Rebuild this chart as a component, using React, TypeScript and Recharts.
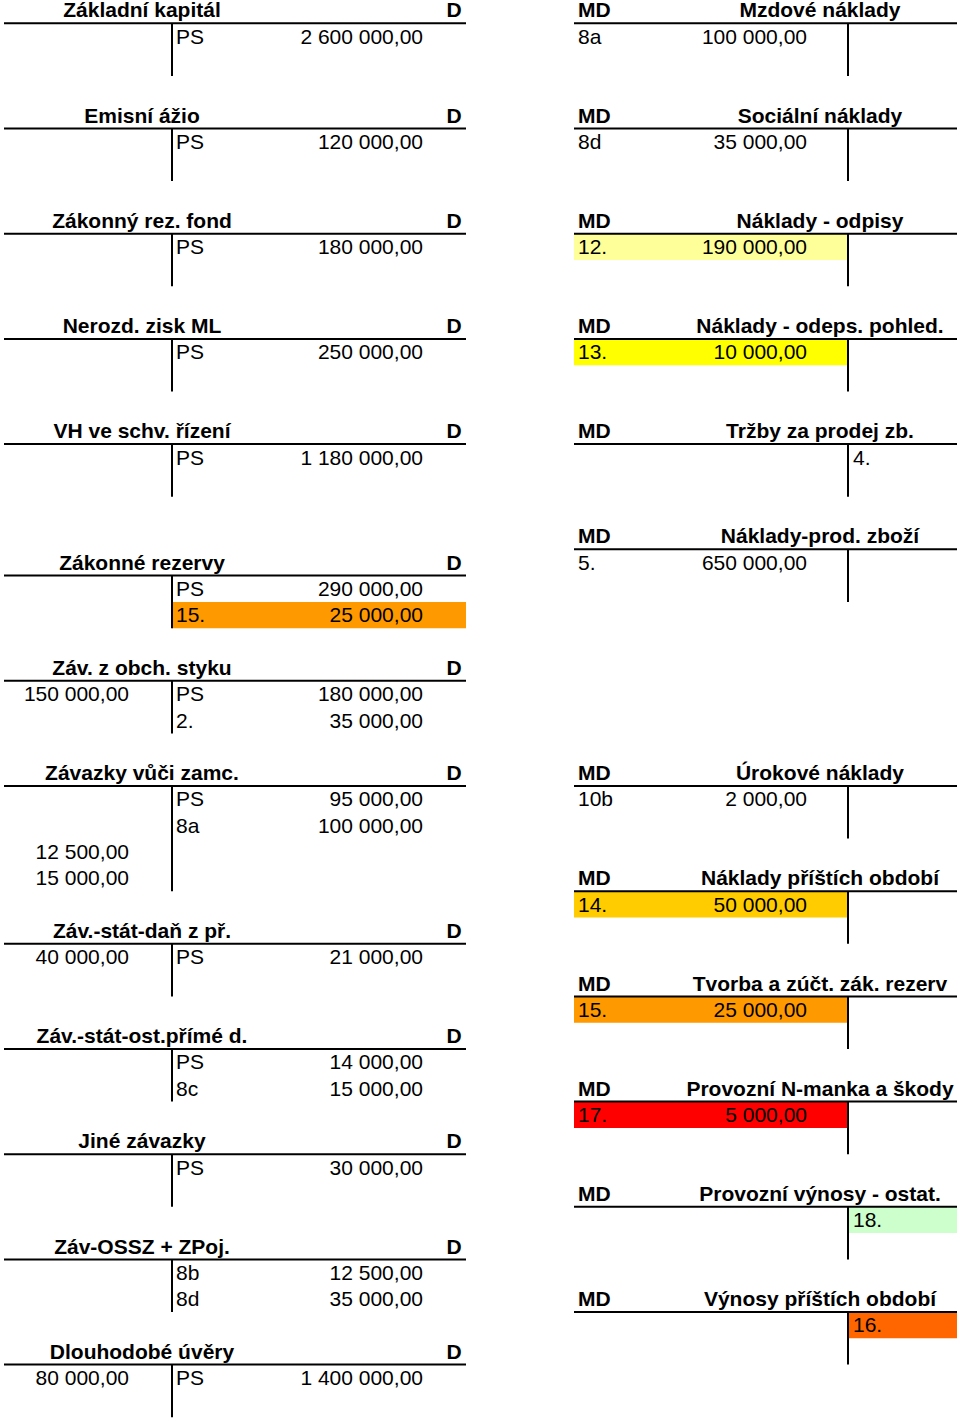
import React from 'react';
import { ScatterChart, Scatter, XAxis, YAxis, ReferenceLine, ReferenceArea } from 'recharts';

type Entry = { r: number; side: 'MD' | 'D'; label?: string; amount?: string; fill?: string };
type Account = { title: string; row: number; span: number; entries: Entry[] };

// Liability accounts (left column, header "title ... D")
const leftAccounts: Account[] = [
  { title: 'Základní kapitál', row: 0, span: 2, entries: [{ r: 1, side: 'D', label: 'PS', amount: '2 600 000,00' }] },
  { title: 'Emisní ážio', row: 4, span: 2, entries: [{ r: 1, side: 'D', label: 'PS', amount: '120 000,00' }] },
  { title: 'Zákonný rez. fond', row: 8, span: 2, entries: [{ r: 1, side: 'D', label: 'PS', amount: '180 000,00' }] },
  { title: 'Nerozd. zisk ML', row: 12, span: 2, entries: [{ r: 1, side: 'D', label: 'PS', amount: '250 000,00' }] },
  { title: 'VH ve schv. řízení', row: 16, span: 2, entries: [{ r: 1, side: 'D', label: 'PS', amount: '1 180 000,00' }] },
  {
    title: 'Zákonné rezervy', row: 21, span: 2, entries: [
      { r: 1, side: 'D', label: 'PS', amount: '290 000,00' },
      { r: 2, side: 'D', label: '15.', amount: '25 000,00', fill: '#FF9900' },
    ],
  },
  {
    title: 'Záv. z obch. styku', row: 25, span: 2, entries: [
      { r: 1, side: 'MD', amount: '150 000,00' },
      { r: 1, side: 'D', label: 'PS', amount: '180 000,00' },
      { r: 2, side: 'D', label: '2.', amount: '35 000,00' },
    ],
  },
  {
    title: 'Závazky vůči zamc.', row: 29, span: 4, entries: [
      { r: 1, side: 'D', label: 'PS', amount: '95 000,00' },
      { r: 2, side: 'D', label: '8a', amount: '100 000,00' },
      { r: 3, side: 'MD', amount: '12 500,00' },
      { r: 4, side: 'MD', amount: '15 000,00' },
    ],
  },
  {
    title: 'Záv.-stát-daň z př.', row: 35, span: 2, entries: [
      { r: 1, side: 'MD', amount: '40 000,00' },
      { r: 1, side: 'D', label: 'PS', amount: '21 000,00' },
    ],
  },
  {
    title: 'Záv.-stát-ost.přímé d.', row: 39, span: 2, entries: [
      { r: 1, side: 'D', label: 'PS', amount: '14 000,00' },
      { r: 2, side: 'D', label: '8c', amount: '15 000,00' },
    ],
  },
  { title: 'Jiné závazky', row: 43, span: 2, entries: [{ r: 1, side: 'D', label: 'PS', amount: '30 000,00' }] },
  {
    title: 'Záv-OSSZ + ZPoj.', row: 47, span: 2, entries: [
      { r: 1, side: 'D', label: '8b', amount: '12 500,00' },
      { r: 2, side: 'D', label: '8d', amount: '35 000,00' },
    ],
  },
  {
    title: 'Dlouhodobé úvěry', row: 51, span: 2, entries: [
      { r: 1, side: 'MD', amount: '80 000,00' },
      { r: 1, side: 'D', label: 'PS', amount: '1 400 000,00' },
    ],
  },
];

// Cost / revenue accounts (right column, header "MD ... title")
const rightAccounts: Account[] = [
  { title: 'Mzdové náklady', row: 0, span: 2, entries: [{ r: 1, side: 'MD', label: '8a', amount: '100 000,00' }] },
  { title: 'Sociální náklady', row: 4, span: 2, entries: [{ r: 1, side: 'MD', label: '8d', amount: '35 000,00' }] },
  { title: 'Náklady - odpisy', row: 8, span: 2, entries: [{ r: 1, side: 'MD', label: '12.', amount: '190 000,00', fill: '#FFFF99' }] },
  { title: 'Náklady - odeps. pohled.', row: 12, span: 2, entries: [{ r: 1, side: 'MD', label: '13.', amount: '10 000,00', fill: '#FFFF00' }] },
  { title: 'Tržby za prodej zb.', row: 16, span: 2, entries: [{ r: 1, side: 'D', label: '4.' }] },
  { title: 'Náklady-prod. zboží', row: 20, span: 2, entries: [{ r: 1, side: 'MD', label: '5.', amount: '650 000,00' }] },
  { title: 'Úrokové náklady', row: 29, span: 2, entries: [{ r: 1, side: 'MD', label: '10b', amount: '2 000,00' }] },
  { title: 'Náklady příštích období', row: 33, span: 2, entries: [{ r: 1, side: 'MD', label: '14.', amount: '50 000,00', fill: '#FFCC00' }] },
  { title: 'Tvorba a zúčt. zák. rezerv', row: 37, span: 2, entries: [{ r: 1, side: 'MD', label: '15.', amount: '25 000,00', fill: '#FF9900' }] },
  { title: 'Provozní N-manka a škody', row: 41, span: 2, entries: [{ r: 1, side: 'MD', label: '17.', amount: '5 000,00', fill: '#FF0000' }] },
  { title: 'Provozní výnosy - ostat.', row: 45, span: 2, entries: [{ r: 1, side: 'D', label: '18.', fill: '#CCFFCC' }] },
  { title: 'Výnosy příštích období', row: 49, span: 2, entries: [{ r: 1, side: 'D', label: '16.', fill: '#FF6600' }] },
];

// ---- layout ----
const W = 960;
const H = 1421;
const ROW_PX = 26.3;
const TOP_PX = -3;
const Y_DOMAIN: [number, number] = [-TOP_PX / ROW_PX, (H - TOP_PX) / ROW_PX];
const BASE = 0.5 + 7.3 / ROW_PX; // baseline position inside a row
const FONT = "'Liberation Sans', Arial, Helvetica, sans-serif";

type Layout = {
  x1: number; x2: number; vX: number; titleX: number;
  sideText: string; sideX: number; sideAnchor: 'start' | 'middle' | 'end';
  drLabelX: number; drAmountX: number; crLabelX: number; crAmountX: number;
};

const LEFT: Layout = {
  x1: 4, x2: 466, vX: 172, titleX: 142, sideText: 'D', sideX: 454, sideAnchor: 'middle',
  drLabelX: 8, drAmountX: 129, crLabelX: 176, crAmountX: 423,
};
const RIGHT: Layout = {
  x1: 574, x2: 957, vX: 848, titleX: 820, sideText: 'MD', sideX: 578, sideAnchor: 'start',
  drLabelX: 578, drAmountX: 807, crLabelX: 853, crAmountX: 940,
};

type TextPt = { x: number; y: number; text: string; anchor: string; bold: boolean };
type Seg = { x1: number; y1: number; x2: number; y2: number };
type Area = { x1: number; x2: number; y1: number; y2: number; fill: string };

const texts: TextPt[] = [];
const segs: Seg[] = [];
const areas: Area[] = [];

function build(accounts: Account[], L: Layout) {
  accounts.forEach((a) => {
    texts.push({ x: L.titleX, y: a.row + BASE, text: a.title, anchor: 'middle', bold: true });
    texts.push({ x: L.sideX, y: a.row + BASE, text: L.sideText, anchor: L.sideAnchor, bold: true });
    segs.push({ x1: L.x1, y1: a.row + 1, x2: L.x2, y2: a.row + 1 });
    segs.push({ x1: L.vX, y1: a.row + 1, x2: L.vX, y2: a.row + 1 + a.span });
    a.entries.forEach((e) => {
      const row = a.row + e.r;
      const isDr = e.side === 'MD';
      if (e.fill) {
        areas.push({
          x1: isDr ? L.x1 : L.vX,
          x2: isDr ? L.vX : L.x2,
          y1: row,
          y2: row + 1,
          fill: e.fill,
        });
      }
      if (e.label) {
        texts.push({ x: isDr ? L.drLabelX : L.crLabelX, y: row + BASE, text: e.label, anchor: 'start', bold: false });
      }
      if (e.amount) {
        texts.push({ x: isDr ? L.drAmountX : L.crAmountX, y: row + BASE, text: e.amount, anchor: 'end', bold: false });
      }
    });
  });
}
build(leftAccounts, LEFT);
build(rightAccounts, RIGHT);

const TextShape = (props: any) => {
  const { cx, cy, payload } = props;
  const p = payload || props;
  return (
    <text
      x={cx}
      y={cy}
      textAnchor={p.anchor}
      fontFamily={FONT}
      fontSize={21}
      fontWeight={p.bold ? 700 : 400}
      fill="#000"
    >
      {p.text}
    </text>
  );
};

export default function App() {
  return (
    <div style={{ position: 'absolute', left: 0, top: 0, width: W, height: H, background: '#fff' }}>
      <ScatterChart width={W} height={H} margin={{ top: 0, right: 0, bottom: 0, left: 0 }}>
        <XAxis type="number" dataKey="x" domain={[0, W]} hide allowDataOverflow />
        <YAxis type="number" dataKey="y" domain={Y_DOMAIN} reversed hide width={0} allowDataOverflow />
        {areas.map((a, i) => (
          <ReferenceArea
            key={`a${i}`}
            x1={a.x1}
            x2={a.x2}
            y1={a.y1}
            y2={a.y2}
            fill={a.fill}
            fillOpacity={1}
            stroke="none"
            ifOverflow="visible"
          />
        ))}
        {segs.map((s, i) => (
          <ReferenceLine
            key={`s${i}`}
            segment={[{ x: s.x1, y: s.y1 }, { x: s.x2, y: s.y2 }]}
            stroke="#000"
            strokeWidth={2}
            ifOverflow="visible"
          />
        ))}
        <Scatter data={texts} shape={TextShape} isAnimationActive={false} />
      </ScatterChart>
    </div>
  );
}
